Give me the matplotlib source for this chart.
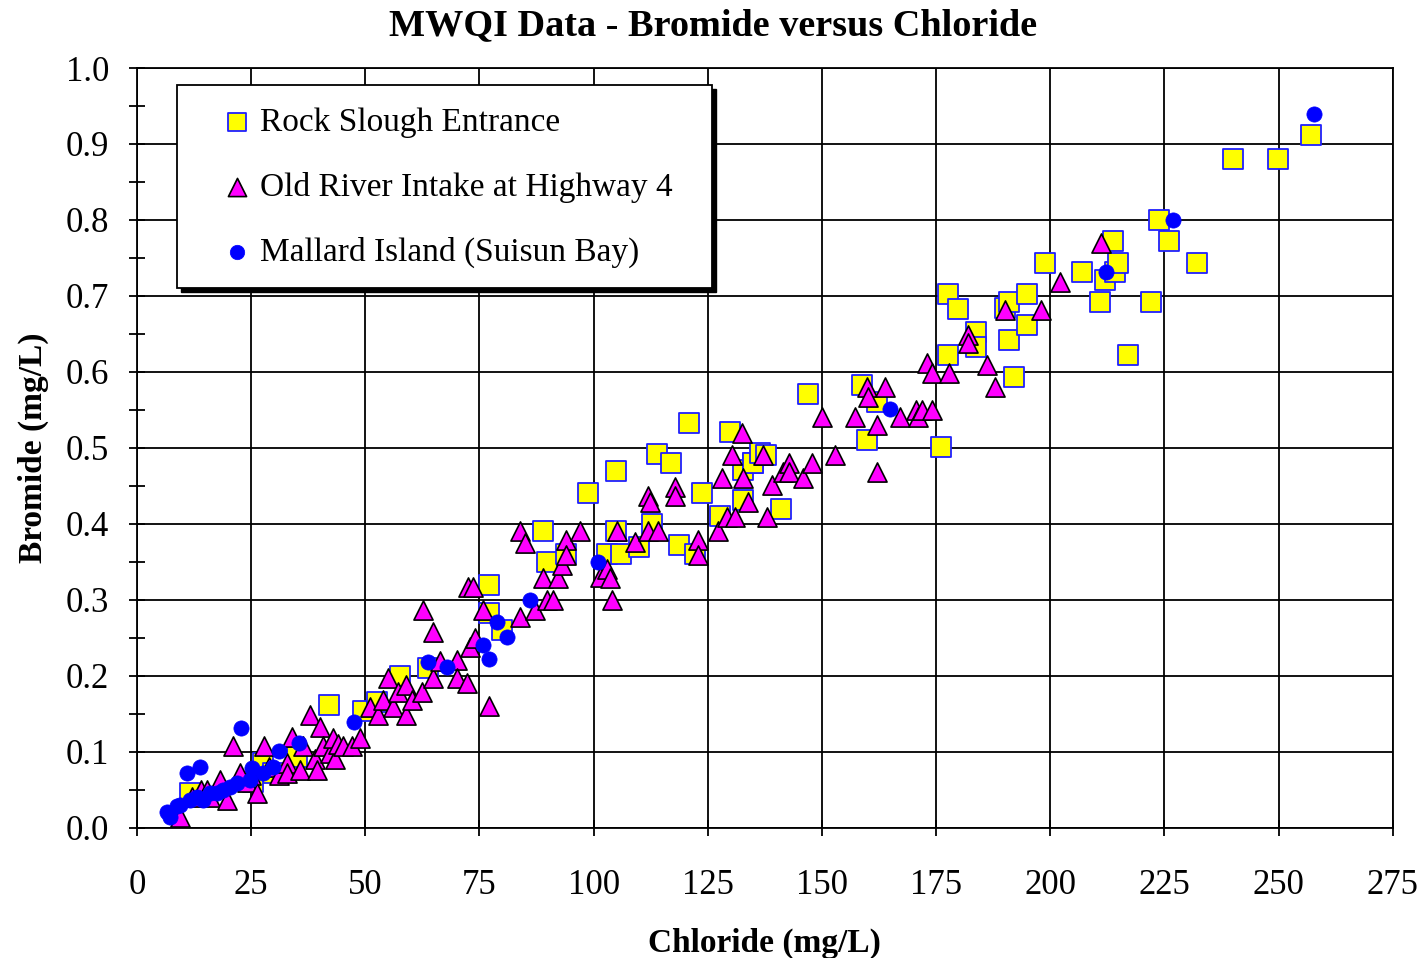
import matplotlib
matplotlib.use("Agg")
import matplotlib.pyplot as plt
from matplotlib.ticker import MultipleLocator, FormatStrFormatter
from matplotlib.patches import Rectangle

plt.rcParams['font.family'] = ['Liberation Serif', 'DejaVu Serif']

# Rock Slough Entrance (yellow squares)
rock_cl = [11.6, 27.6, 29.8, 35, 25.5, 42, 49.5, 52.5, 57.6, 63.7, 77.1, 77.1, 80,
           88.9, 89.8, 93.9, 98.8, 103, 104.9, 104.9, 106, 110, 112.8, 113.9, 116.9,
           118.7, 120.9, 122.2, 123.7, 127.6, 129.8, 132.7, 132.7, 134.9, 135, 136.4,
           137.7, 141, 147, 158.7, 159.8, 162, 176, 177.6, 177.6, 179.8, 183.7, 183.7,
           190, 190.9, 190.9, 192, 194.9, 194.9, 198.8, 207, 210.9, 212, 213.7, 214.2,
           214.8, 217, 222, 223.8, 226, 232.1, 240, 249.9, 257]
rock_br = [0.046, 0.085, 0.072, 0.093, 0.060, 0.162, 0.153, 0.166, 0.200, 0.210, 0.320, 0.283, 0.260,
           0.390, 0.350, 0.360, 0.440, 0.360, 0.470, 0.390, 0.360, 0.370, 0.400, 0.492, 0.480,
           0.372, 0.533, 0.360, 0.440, 0.410, 0.521, 0.471, 0.432, 0.480, 0.480, 0.493,
           0.490, 0.420, 0.571, 0.583, 0.510, 0.561, 0.501, 0.703, 0.622, 0.683, 0.653, 0.633,
           0.684, 0.692, 0.642, 0.593, 0.703, 0.662, 0.743, 0.732, 0.692, 0.721, 0.772, 0.732,
           0.743, 0.622, 0.692, 0.800, 0.772, 0.743, 0.880, 0.880, 0.912]

# Old River Intake at Highway 4 (magenta triangles)
old_cl = [9.4, 12, 14, 15.3, 16, 18.2, 19.7, 21, 22.6, 24, 25, 26.3, 27.8, 29, 31, 32.8, 32.8,
          33.9, 35.7, 36.3, 37.9, 39, 39.4, 40, 40.7, 42.3, 42.9, 43.4, 44, 45.1, 47.1, 48.8,
          51, 52.8, 53.9, 55, 56.1, 57.2, 58.9, 58.9, 60.2, 62.4, 62.6, 64.8, 64.8, 66.3,
          70.1, 70.1, 72.3, 72.5, 72.9, 73.6, 74, 75.8, 77.1, 83.9, 83.9, 85, 87.1, 88.9,
          89.8, 91.1, 92.2, 93.1, 93.9, 93.9, 97, 101.4, 102.9, 103.6, 104, 105.1, 109,
          111.9, 111.9, 112.3, 114.1, 117.8, 117.8, 122.8, 122.8, 127.2, 128.1, 129.2,
          130.3, 130.9, 132.5, 132.7, 133.8, 137.1, 137.9, 139, 141.5, 142.8, 142.8, 145.8,
          147.8, 150, 152.8, 157.2, 159.8, 160, 162, 162, 163.8, 167, 170.6, 171, 171.9,
          173, 174.1, 174.1, 177.8, 182, 182, 186.1, 187.9, 190, 197.9, 202.1, 211]
old_br = [0.014, 0.040, 0.050, 0.050, 0.040, 0.063, 0.037, 0.107, 0.072, 0.060, 0.070, 0.046, 0.108, 0.080, 0.070, 0.085, 0.072,
          0.120, 0.076, 0.107, 0.149, 0.090, 0.076, 0.132, 0.107, 0.099, 0.118, 0.090, 0.110, 0.107, 0.107, 0.118,
          0.159, 0.149, 0.168, 0.197, 0.159, 0.179, 0.188, 0.149, 0.168, 0.179, 0.287, 0.258, 0.197, 0.220,
          0.221, 0.197, 0.191, 0.317, 0.238, 0.317, 0.250, 0.287, 0.160, 0.390, 0.278, 0.375, 0.287, 0.329,
          0.300, 0.300, 0.329, 0.346, 0.379, 0.359, 0.390, 0.330, 0.340, 0.329, 0.300, 0.390, 0.376,
          0.436, 0.390, 0.429, 0.390, 0.449, 0.436, 0.379, 0.359, 0.390, 0.460, 0.409,
          0.491, 0.409, 0.520, 0.460, 0.429, 0.491, 0.409, 0.451, 0.468, 0.480, 0.468, 0.460,
          0.480, 0.540, 0.491, 0.540, 0.580, 0.567, 0.530, 0.468, 0.580, 0.540, 0.550, 0.540, 0.550,
          0.612, 0.599, 0.550, 0.599, 0.649, 0.638, 0.609, 0.580, 0.682, 0.682, 0.718, 0.770]

# Mallard Island (Suisun Bay) (blue circles)
mal_cl = [6.6, 7.2, 8.7, 9.4, 10.9, 11.6, 13.1, 13.8, 14.5, 16, 17.5, 18.8, 20.4, 21.9, 22.8,
          24.7, 25.2, 27.6, 29.8, 31.1, 35.5, 47.5, 63.7, 67.8, 75.8, 77.1, 78.8, 81, 86,
          100.9, 164.9, 212.2, 226.8, 257.7]
mal_br = [0.021, 0.014, 0.028, 0.030, 0.072, 0.037, 0.041, 0.080, 0.037, 0.046, 0.046, 0.050, 0.054, 0.059, 0.131,
          0.063, 0.079, 0.072, 0.080, 0.101, 0.111, 0.139, 0.218, 0.212, 0.241, 0.222, 0.271, 0.251, 0.300,
          0.350, 0.551, 0.731, 0.800, 0.940]

x_ticks = [0, 25, 50, 75, 100, 125, 150, 175, 200, 225, 250, 275]
y_ticks = [0.0, 0.1, 0.2, 0.3, 0.4, 0.5, 0.6, 0.7, 0.8, 0.9, 1.0]

fig = plt.figure(figsize=(14.27, 9.58), dpi=100)
ax = fig.add_axes([0.096, 0.136, 0.880, 0.793])

ax.scatter(rock_cl, rock_br, marker='s', s=190, facecolor='#FFFF00', edgecolor='#2020FF',
           linewidth=1.3, zorder=3, label='Rock Slough Entrance')
ax.scatter(old_cl, old_br, marker='^', s=190, facecolor='#FF00FF', edgecolor='black',
           linewidth=1.2, zorder=4, label='Old River Intake at Highway 4')
ax.scatter(mal_cl, mal_br, marker='o', s=120, facecolor='#0000FF', edgecolor='#0000FF',
           linewidth=0.5, zorder=5, label='Mallard Island (Suisun Bay)')

ax.set_xlim(0, 275)
ax.set_ylim(0, 1.0)
ax.set_xticks(x_ticks)
ax.set_yticks(y_ticks)
ax.yaxis.set_minor_locator(MultipleLocator(0.05))
ax.yaxis.set_major_formatter(FormatStrFormatter('%.1f'))
ax.grid(True, which='major', color='black', linewidth=1.3, zorder=0)
ax.set_axisbelow(True)
for sp in ax.spines.values():
    sp.set_linewidth(1.3)
ax.tick_params(axis='both', which='major', direction='inout', length=12, width=1.3,
               labelsize=25)
ax.tick_params(axis='y', which='major', pad=14)
ax.tick_params(axis='y', which='minor', direction='inout', length=12, width=1.3)
ax.tick_params(axis='x', pad=24)

ax.set_xlabel('Chloride (mg/L)', fontsize=24, fontweight='bold', labelpad=18)
ax.set_ylabel('Bromide (mg/L)', fontsize=24, fontweight='bold', labelpad=12)
fig.suptitle('MWQI Data - Bromide versus Chloride', fontsize=27.5, fontweight='bold', y=0.992)

# legend box with solid black shadow
shadow = Rectangle((0.0348, 0.7055), 0.4260, 0.2671, transform=ax.transAxes,
                   facecolor='black', edgecolor='black', zorder=9)
box = Rectangle((0.0318, 0.7105), 0.4260, 0.2671, transform=ax.transAxes,
                facecolor='white', edgecolor='black', linewidth=1.3, zorder=10)
ax.add_patch(shadow)
ax.add_patch(box)

leg = ax.legend(loc='upper left', bbox_to_anchor=(0.066, 0.948), fontsize=24,
                frameon=False, borderpad=0, labelspacing=1.02, handletextpad=0.2,
                handlelength=1.0, borderaxespad=0, markerscale=0.95)
leg.set_zorder(11)

fig.savefig('out.png', dpi=100)
